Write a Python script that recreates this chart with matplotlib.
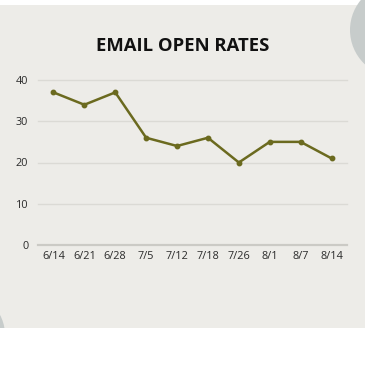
import matplotlib
matplotlib.use("Agg")
import matplotlib.pyplot as plt
from matplotlib.patches import Rectangle, Circle

categories = ["6/14", "6/21", "6/28", "7/5", "7/12", "7/18", "7/26", "8/1", "8/7", "8/14"]
open_rates = [37, 34, 37, 26, 24, 26, 20, 25, 25, 21]
y_ticks = [0, 10, 20, 30, 40]
title = "EMAIL OPEN RATES"

W = H = 365
fig = plt.figure(figsize=(W / 100, H / 100), dpi=100)
fig.patch.set_facecolor("white")

bg = fig.add_axes([0, 0, 1, 1])
bg.set_xlim(0, W)
bg.set_ylim(H, 0)
bg.axis("off")
bg.add_patch(Rectangle((0, 5), W, 323, facecolor="#edece8", edgecolor="none"))
bg.add_patch(Circle((397, 30), 47, facecolor="#c7cccb", edgecolor="none"))
bg.add_patch(Circle((-38, 335), 43, facecolor="#c7cccb", edgecolor="none"))
bg.add_patch(Rectangle((0, 328), W, 37, facecolor="white", edgecolor="none"))

family = ["Open Sans", "DejaVu Sans"]
fig.text(183 / W, 1 - 46 / H, title, ha="center", va="center",
         fontsize=13.3, fontweight="bold", family=family, color="#111111")

# axes: x from 38 to 347 px, y=0 at 245, y=40 at 80
x0, x1 = 38, 347
y0px, y40px = 245, 80
ax = fig.add_axes([x0 / W, 1 - y0px / H, (x1 - x0) / W, (y0px - y40px) / H])
ax.set_facecolor("none")
ax.set_xlim(-0.5, len(categories) - 0.5)
ax.set_ylim(0, 40)
ax.set_yticks(y_ticks)
ax.set_yticklabels([str(v) for v in y_ticks])
ax.set_xticks(range(len(categories)))
ax.set_xticklabels(categories)
for s in ax.spines.values():
    s.set_visible(False)
ax.tick_params(length=0, labelsize=7.8, colors="#2a2a2a", pad=4)
ax.tick_params(axis="y", pad=7)
for lab in ax.get_xticklabels() + ax.get_yticklabels():
    lab.set_family(family)
for v in y_ticks[1:]:
    ax.axhline(v, color="#dbdad5", lw=1.0, zorder=1, clip_on=False)
ax.axhline(0, color="#cbcac5", lw=1.6, zorder=1, clip_on=False)

ax.plot(range(len(categories)), open_rates, color="#6b6a1f", lw=1.8,
        marker="o", markersize=3.2, zorder=3, clip_on=False)

fig.savefig("out.png", dpi=100, facecolor=fig.get_facecolor())
